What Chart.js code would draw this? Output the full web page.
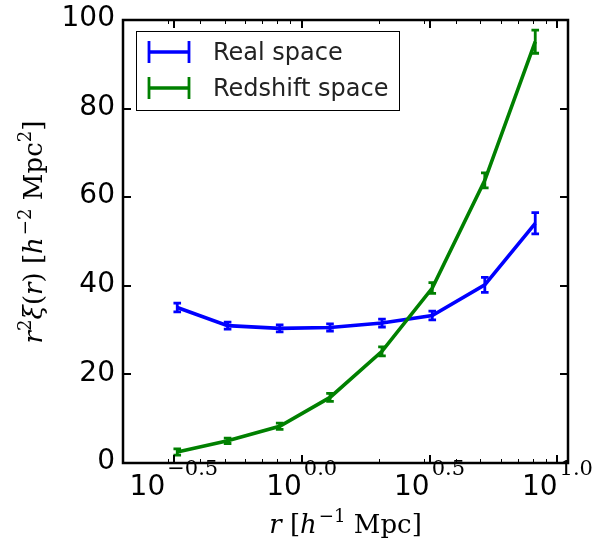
<!DOCTYPE html>
<html>
<head>
<meta charset="utf-8">
<script src="https://cdn.jsdelivr.net/npm/chart.js@4.4.1/dist/chart.umd.min.js"></script>
<style>
  html, body { margin: 0; padding: 0; background: #fff; }
  #wrap { width: 597px; height: 549px; }
</style>
</head>
<body>
<div id="wrap"><canvas id="chart" width="597" height="549"></canvas></div>
<script>
/* data */
const radius = [0.326, 0.513, 0.82, 1.29, 2.06, 3.24, 5.2, 8.19];
const realSpace = [35.1, 31.0, 30.4, 30.6, 31.6, 33.3, 40.2, 54.1];
const realErr = [1.0, 0.8, 0.8, 0.8, 0.9, 1.0, 1.7, 2.4];
const redshiftSpace = [2.5, 5.0, 8.3, 14.8, 25.2, 39.5, 63.8, 95.1];
const redshiftErr = [0.7, 0.6, 0.7, 0.9, 1.0, 1.2, 1.7, 2.6];

const xMajorExp = ['\u22120.5', '0.0', '0.5', '1.0'];
const xMajor = [Math.pow(10, -0.5), 1, Math.pow(10, 0.5), 10];
const xMinor = [0.2, 0.3, 0.4, 0.5, 0.6, 0.7, 0.8, 0.9, 2, 3, 4, 5, 6, 7, 8, 9];
const yTicks = [0, 20, 40, 60, 80, 100];

const errors = [realErr, redshiftErr];
const SANS = '"DejaVu Sans", sans-serif';
const SERIF = '"DejaVu Serif", serif';

function toPoints(ys) {
    return radius.map((r, i) => ({x: r, y: ys[i]}));
}

/**
 * draw a row of text pieces, some italic, some raised
 */
function drawMath(ctx, parts, x, y, size) {
    let total = 0;
    parts.forEach(p => {
        ctx.font = (p.it ? 'italic ' : '') + (p.sup ? size * 0.7 : size) + 'px ' + SERIF;
        p.w = ctx.measureText(p.t).width + (p.gap || 0);
        total += p.w;
    });
    let cx = x - total / 2;
    parts.forEach(p => {
        ctx.font = (p.it ? 'italic ' : '') + (p.sup ? size * 0.7 : size) + 'px ' + SERIF;
        ctx.fillText(p.t, cx, p.sup ? y - size * 0.42 : y);
        cx += p.w;
    });
}

const errorBars = {
    id: 'errorBars',
    afterDatasetDraw(chart, args) {
        const ctx = chart.ctx;
        const xs = chart.scales.x, ys = chart.scales.y;
        const ds = chart.data.datasets[args.index];
        const err = errors[args.index];
        ctx.save();
        ctx.strokeStyle = ds.borderColor;
        ctx.lineWidth = 2.8;
        ds.data.forEach((p, i) => {
            const px = xs.getPixelForValue(p.x);
            const top = ys.getPixelForValue(p.y + err[i]);
            const bot = ys.getPixelForValue(p.y - err[i]);
            ctx.beginPath();
            ctx.moveTo(px, top); ctx.lineTo(px, bot);
            ctx.moveTo(px - 3.8, top); ctx.lineTo(px + 3.8, top);
            ctx.moveTo(px - 3.8, bot); ctx.lineTo(px + 3.8, bot);
            ctx.stroke();
        });
        ctx.restore();
    }
};

const frame = {
    id: 'frame',
    afterDraw(chart) {
        const ctx = chart.ctx;
        const a = chart.chartArea;
        const xs = chart.scales.x, ys = chart.scales.y;
        ctx.save();
        ctx.strokeStyle = '#000';

        // minor ticks on log axis
        ctx.lineWidth = 1;
        xMinor.forEach(v => {
            const px = Math.round(xs.getPixelForValue(v)) + 0.5;
            ctx.beginPath();
            ctx.moveTo(px, a.bottom); ctx.lineTo(px, a.bottom - 4);
            ctx.moveTo(px, a.top); ctx.lineTo(px, a.top + 4);
            ctx.stroke();
        });
        // major ticks
        ctx.lineWidth = 2;
        xMajor.forEach(v => {
            const px = Math.round(xs.getPixelForValue(v));
            ctx.beginPath();
            ctx.moveTo(px, a.bottom); ctx.lineTo(px, a.bottom - 8);
            ctx.moveTo(px, a.top); ctx.lineTo(px, a.top + 8);
            ctx.stroke();
        });
        yTicks.forEach(v => {
            const py = Math.round(ys.getPixelForValue(v));
            ctx.beginPath();
            ctx.moveTo(a.left, py); ctx.lineTo(a.left + 8, py);
            ctx.moveTo(a.right, py); ctx.lineTo(a.right - 8, py);
            ctx.stroke();
        });
        // axes box
        ctx.lineWidth = 2.5;
        ctx.strokeRect(a.left, a.top, a.right - a.left, a.bottom - a.top);

        // y tick labels
        ctx.fillStyle = '#000';
        ctx.font = '28px ' + SANS;
        ctx.textAlign = 'right';
        ctx.textBaseline = 'middle';
        yTicks.forEach(v => {
            ctx.fillText(String(v), a.left - 8, ys.getPixelForValue(v) - 1);
        });

        // x tick labels: 10^{exp}
        ctx.textAlign = 'left';
        ctx.textBaseline = 'alphabetic';
        xMajor.forEach((v, i) => {
            ctx.font = '28px ' + SANS;
            const wb = ctx.measureText('10').width;
            ctx.font = '21px ' + SERIF;
            const we = ctx.measureText(xMajorExp[i]).width;
            const x0 = xs.getPixelForValue(v) - (wb + we + 2) / 2;
            ctx.font = '28px ' + SANS;
            ctx.fillText('10', x0, 495);
            ctx.font = '21px ' + SERIF;
            ctx.fillText(xMajorExp[i], x0 + wb + 2, 475);
        });

        // axis titles
        drawMath(ctx, [
            {t: 'r', it: true}, {t: ' ['}, {t: 'h', it: true, gap: 2}, {t: '\u22121', sup: true},
            {t: ' Mpc]'}
        ], (a.left + a.right) / 2, 533, 26);

        ctx.save();
        ctx.translate(42, 232);
        ctx.rotate(-Math.PI / 2);
        drawMath(ctx, [
            {t: 'r', it: true}, {t: '2', sup: true}, {t: '\u03be', it: true}, {t: '('},
            {t: 'r', it: true}, {t: ') ['}, {t: 'h', it: true, gap: 2}, {t: '\u22122', sup: true},
            {t: ' Mpc'}, {t: '2', sup: true}, {t: ']'}
        ], 0, 0, 26);
        ctx.restore();

        // legend
        ctx.fillStyle = '#fff';
        ctx.fillRect(136.5, 31.5, 263, 79);
        ctx.lineWidth = 1;
        ctx.strokeStyle = '#000';
        ctx.strokeRect(136.5, 31.5, 263, 79);
        const rows = [52, 88];
        chart.data.datasets.forEach((ds, i) => {
            const y = rows[i];
            ctx.strokeStyle = ds.borderColor;
            ctx.lineWidth = 3.5;
            ctx.beginPath();
            ctx.moveTo(149, y); ctx.lineTo(189, y);
            ctx.stroke();
            ctx.lineWidth = 2.8;
            ctx.beginPath();
            ctx.moveTo(149, y - 11); ctx.lineTo(149, y + 11);
            ctx.moveTo(189, y - 11); ctx.lineTo(189, y + 11);
            ctx.stroke();
            ctx.fillStyle = '#222';
            ctx.font = '24px ' + SANS;
            ctx.fillText(ds.label, 213, y + 8);
        });
        ctx.restore();
    }
};

const chart = new Chart(document.getElementById('chart'), {
    type: 'line',
    data: {
        datasets: [{
            label: 'Real space',
            data: toPoints(realSpace),
            borderColor: '#0000ff',
            borderWidth: 3.6,
            pointRadius: 0,
            tension: 0,
            order: 1
        }, {
            label: 'Redshift space',
            data: toPoints(redshiftSpace),
            borderColor: '#008000',
            borderWidth: 3.6,
            pointRadius: 0,
            tension: 0,
            order: 0
        }]
    },
    options: {
        responsive: false,
        animation: false,
        layout: {padding: {left: 123, right: 29, top: 20, bottom: 86}},
        plugins: {legend: {display: false}, tooltip: {enabled: false}},
        scales: {
            x: {type: 'logarithmic', min: 0.2, max: 11, display: false},
            y: {type: 'linear', min: 0, max: 100, display: false}
        }
    },
    plugins: [errorBars, frame]
});
</script>
</body>
</html>
